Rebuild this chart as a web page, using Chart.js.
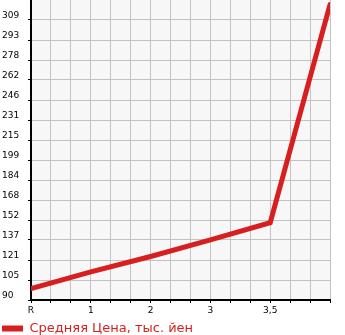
<!DOCTYPE html>
<html>
<head>
<meta charset="utf-8">
<script src="https://cdn.jsdelivr.net/npm/chart.js@4"></script>
<style>
  html, body { margin: 0; padding: 0; background: #fff; }
  #wrap { width: 345px; height: 335px; position: relative; }
</style>
</head>
<body>
<div id="wrap"><canvas id="priceChart"></canvas></div>
<script>
const xLabels = ['R', '1', '2', '3', '3,5', ''];
const prices = [99, 112, 124, 137, 150.5, 321];
const yLabels = ['90', '105', '121', '137', '152', '168', '184', '199', '215', '231', '246', '262', '278', '293', '309'];
const seriesName = 'Средняя Цена, тыс. йен';

const yMin = 90;
const yStep = 15.64;
const yMax = yMin + yStep * yLabels.length;
const subSteps = 3; // grid lines between x labels

const plotBg = {
  id: 'plotBg',
  beforeDraw(chart) {
    const { ctx, chartArea: a } = chart;
    ctx.save();
    ctx.fillStyle = '#f7f7f7';
    ctx.fillRect(a.left, a.top, a.right - a.left, a.bottom - a.top);
    ctx.restore();
  },
};

const font = { family: 'DejaVu Sans', size: 9 };

new Chart(document.getElementById('priceChart'), {
  type: 'line',
  data: {
    datasets: [{
      label: seriesName,
      data: prices.map((v, i) => ({ x: i * subSteps, y: v })),
      borderColor: '#d71f1f',
      backgroundColor: '#d71f1f',
      borderWidth: 5,
      borderCapStyle: 'round',
      borderJoinStyle: 'miter',
      pointRadius: 0,
      tension: 0,
    }],
  },
  options: {
    responsive: true,
    maintainAspectRatio: false,
    animation: false,
    layout: { padding: { left: 2, right: 15, top: 0, bottom: -10 } },
    plugins: {
      tooltip: { enabled: false },
      legend: {
        position: 'bottom',
        align: 'start',
        labels: {
          color: '#d71f1f',
          font: { family: 'DejaVu Sans', size: 13 },
          boxWidth: 21,
          boxHeight: 6,
          padding: 0,
          generateLabels: (chart) => chart.data.datasets.map((d, i) => ({
            text: d.label,
            fillStyle: d.borderColor,
            strokeStyle: d.borderColor,
            lineWidth: 0,
            fontColor: '#d71f1f',
            datasetIndex: i,
          })),
        },
      },
    },
    scales: {
      x: {
        type: 'linear',
        min: 0,
        max: (xLabels.length - 1) * subSteps,
        afterBuildTicks: (s) => {
          s.ticks = Array.from({ length: (xLabels.length - 1) * subSteps + 1 }, (_, i) => ({ value: i }));
        },
        afterFit: (s) => { s.height = 22; s.paddingLeft = 0; s.paddingRight = 0; },
        ticks: {
          color: '#000',
          font,
          padding: 2,
          maxRotation: 0,
          autoSkip: false,
          callback: (v) => (v % subSteps === 0 ? xLabels[v / subSteps] : ''),
        },
        grid: { color: '#c3c3c3', lineWidth: 1, tickLength: 3, tickColor: '#000' },
        border: { color: '#000', width: 2 },
      },
      y: {
        min: yMin,
        max: yMax,
        afterBuildTicks: (s) => {
          s.ticks = yLabels.map((_, i) => ({ value: yMin + i * yStep }));
        },
        afterFit: (s) => { s.width = 29; s.paddingTop = 0; s.paddingBottom = 0; },
        ticks: {
          color: '#000',
          font,
          padding: 2,
          crossAlign: 'far',
          labelOffset: -4,
          autoSkip: false,
          callback: (v, i) => yLabels[i],
        },
        grid: { color: '#c3c3c3', lineWidth: 1, tickLength: 3, tickColor: '#000' },
        border: { color: '#000', width: 2 },
      },
    },
  },
  plugins: [plotBg],
});
</script>
</body>
</html>
